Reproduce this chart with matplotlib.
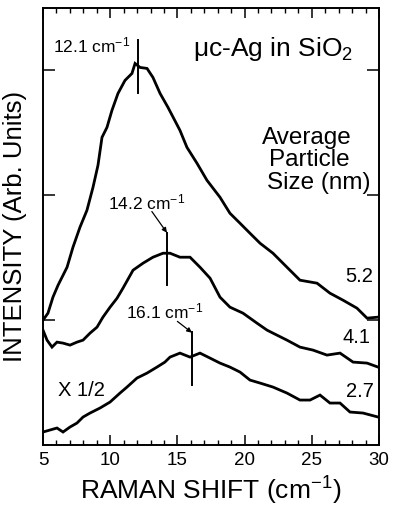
import matplotlib
matplotlib.use("Agg")
import matplotlib.pyplot as plt

plt.rcParams['font.family'] = ['Liberation Sans', 'DejaVu Sans']
plt.rcParams['mathtext.fontset'] = 'custom'
plt.rcParams['mathtext.rm'] = 'Liberation Sans'
plt.rcParams['mathtext.it'] = 'Liberation Sans:italic'
plt.rcParams['mathtext.bf'] = 'Liberation Sans:bold'

# ---- data ----
x_52 = [5.0, 5.37, 5.74, 6.12, 6.79, 7.23, 7.75, 8.27, 8.72, 9.09, 9.39, 9.76, 10.13,
        10.58, 11.10, 11.62, 11.85, 12.22, 12.74, 13.18, 13.71, 14.30, 15.19, 15.71,
        16.46, 17.20, 18.17, 18.91, 19.66, 20.40, 21.15, 22.11, 23.15, 24.12, 25.39,
        26.35, 27.32, 28.36, 29.11, 29.93]
y_52 = [1.00, 1.056, 1.184, 1.28, 1.424, 1.584, 1.744, 1.88, 2.064, 2.24, 2.464, 2.544,
        2.68, 2.816, 2.92, 2.976, 3.056, 3.024, 3.016, 2.944, 2.816, 2.704, 2.52, 2.384,
        2.256, 2.12, 1.984, 1.856, 1.776, 1.696, 1.616, 1.536, 1.424, 1.32, 1.296,
        1.216, 1.16, 1.096, 1.016, 1.024]

x_41 = [5.0, 5.30, 5.67, 6.04, 6.49, 7.01, 7.53, 7.98, 8.50, 9.02, 9.46, 9.99, 10.51,
        10.95, 11.70, 12.44, 13.18, 13.93, 14.45, 15.19, 15.94, 16.68, 17.43, 18.17,
        18.91, 19.88, 20.92, 21.67, 22.11, 23.15, 24.12, 25.09, 26.13, 27.10, 28.07,
        29.11, 29.93]
y_41 = [0.92, 0.84, 0.784, 0.824, 0.816, 0.80, 0.824, 0.84, 0.896, 0.944, 1.024, 1.104,
        1.176, 1.256, 1.40, 1.456, 1.504, 1.536, 1.536, 1.504, 1.504, 1.424, 1.336,
        1.184, 1.104, 1.056, 0.976, 0.92, 0.896, 0.84, 0.784, 0.76, 0.72, 0.736, 0.664,
        0.656, 0.624]

x_27 = [5.0, 5.52, 6.04, 6.49, 7.01, 7.53, 7.98, 8.50, 9.24, 9.99, 10.73, 11.25, 11.99,
        12.74, 13.48, 14.07, 14.45, 15.19, 15.94, 16.68, 17.43, 18.17, 18.91, 19.66,
        20.40, 21.15, 22.11, 23.15, 24.12, 24.87, 25.61, 26.35, 27.10, 27.84, 28.81,
        29.93]
y_27 = [0.104, 0.12, 0.136, 0.104, 0.144, 0.176, 0.224, 0.256, 0.296, 0.344, 0.416,
        0.464, 0.536, 0.576, 0.624, 0.664, 0.704, 0.736, 0.704, 0.736, 0.696, 0.656,
        0.624, 0.584, 0.52, 0.496, 0.464, 0.416, 0.36, 0.36, 0.40, 0.336, 0.336, 0.264,
        0.256, 0.224]

size_labels = ["5.2", "4.1", "2.7"]
peak_pos = [12.1, 14.2, 16.1]
peak_ymin = [2.82, 1.28, 0.48]
peak_ymax = [3.24, 1.70, 0.904]
peak_labels = [r"12.1 $\mathregular{cm^{-1}}$", r"14.2 $\mathregular{cm^{-1}}$",
               r"16.1 $\mathregular{cm^{-1}}$"]

xticks_major = [5, 10, 15, 20, 25, 30]
yticks_major = [1, 2, 3]

# ---- figure ----
fig = plt.figure(figsize=(3.93, 5.16), dpi=100)
ax = fig.add_axes([43/393, 1 - 445/516, (379-43)/393, (445-8)/516])

lw = 2.0
for xs, ys in [(x_52, y_52), (x_41, y_41), (x_27, y_27)]:
    ax.plot(xs, ys, color='black', lw=lw, solid_joinstyle='miter')

for xp, y0, y1 in zip(peak_pos, peak_ymin, peak_ymax):
    ax.plot([xp, xp], [y0, y1], color='black', lw=1.4)

ax.set_xlim(5, 30)
ax.set_ylim(0, 3.5)

ax.set_xticks(xticks_major)
ax.set_xticks(range(5, 31), minor=True)
ax.set_yticks(yticks_major)
ax.set_yticklabels([])
ax.tick_params(axis='x', which='major', direction='in', length=7, width=1.1,
               top=True, labelsize=13.5, pad=5)
ax.tick_params(axis='x', which='minor', direction='in', length=3.6, width=1.0, top=True)
ax.tick_params(axis='y', which='major', direction='in', length=8.5, width=1.1, right=True)
for s in ax.spines.values():
    s.set_linewidth(1.4)

ax.set_xlabel(r"RAMAN SHIFT (cm$^{\mathregular{-1}}$)", fontsize=19, labelpad=4)
ax.set_ylabel("INTENSITY (Arb. Units)", fontsize=18.5, labelpad=8)

# annotations
ax.text(5.75, 3.2, peak_labels[0], fontsize=12.5, ha='left', va='center')
ax.text(9.85, 1.94, peak_labels[1], fontsize=12.5, ha='left', va='center')
ax.text(11.2, 1.07, peak_labels[2], fontsize=12.5, ha='left', va='center')
ax.annotate("", xy=(14.22, 1.70), xytext=(13.1, 1.87),
            arrowprops=dict(arrowstyle='-|>', color='black', lw=0.9,
                            mutation_scale=7, shrinkA=0, shrinkB=0))
ax.annotate("", xy=(16.08, 0.90), xytext=(15.0, 0.99),
            arrowprops=dict(arrowstyle='-|>', color='black', lw=0.9,
                            mutation_scale=7, shrinkA=0, shrinkB=0))

ax.text(16.15, 3.17, r"μc-Ag in $\mathregular{SiO_2}$", fontsize=19, ha='left', va='center')
ax.text(24.64, 2.46, "Average", fontsize=17.5, ha='center', va='center')
ax.text(24.79, 2.285, "Particle", fontsize=17.5, ha='center', va='center')
ax.text(25.55, 2.10, "Size (nm)", fontsize=17.5, ha='center', va='center')

ax.text(29.6, 1.35, size_labels[0], fontsize=14.5, ha='right', va='center')
ax.text(29.4, 0.86, size_labels[1], fontsize=14.5, ha='right', va='center')
ax.text(29.6, 0.43, size_labels[2], fontsize=14.5, ha='right', va='center')
ax.text(6.1, 0.44, "X 1/2", fontsize=14.5, ha='left', va='center')

fig.savefig("out.png", dpi=100)
